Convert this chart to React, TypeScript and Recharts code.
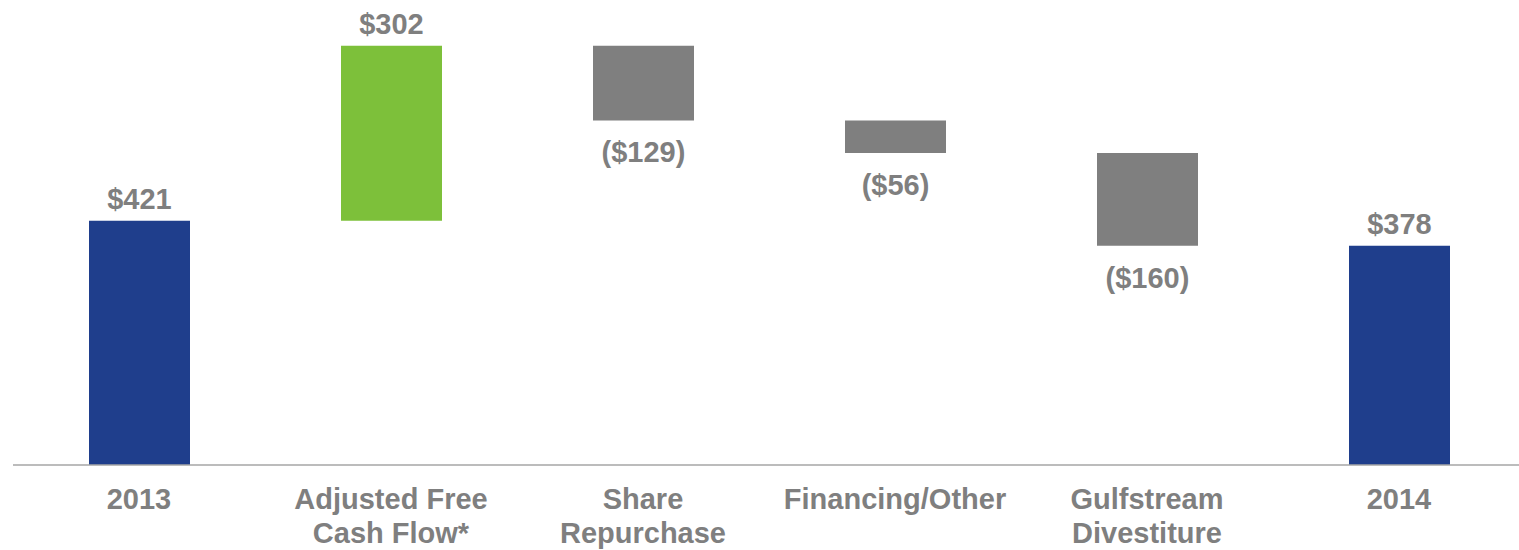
import React from 'react';
import { BarChart, Bar, XAxis, YAxis, Cell, LabelList } from 'recharts';

// cash bridge, 2013 -> 2014 ($M)
const categories = ['2013', 'Adjusted Free Cash Flow*', 'Share Repurchase', 'Financing/Other', 'Gulfstream Divestiture', '2014'];
const tickLines = [['2013'], ['Adjusted Free', 'Cash Flow*'], ['Share', 'Repurchase'], ['Financing/Other'], ['Gulfstream', 'Divestiture'], ['2014']];
const deltas = [421, 302, -129, -56, -160, 378];
const kinds = ['total', 'up', 'down', 'down', 'down', 'total'];

const COLORS: Record<string, string> = { total: '#1f3e8c', up: '#7dc03a', down: '#7f7f7f' };
const TEXT = '#7f7f7f';
const FONT = '"Liberation Sans", Arial, sans-serif';

// invisible base + visible step for each column
let running = 0;
const data = categories.map((name, i) => {
  const d = deltas[i];
  let base = 0;
  if (kinds[i] === 'total') {
    running = d;
  } else if (d >= 0) {
    base = running;
    running += d;
  } else {
    running += d;
    base = running;
  }
  return { name, base, step: Math.abs(d), delta: d, idx: i };
});

const fmt = (v: number) => (v < 0 ? `($${Math.abs(v)})` : `$${v}`);

const StepLabel = (props: any) => {
  const { x, y, width, height, index } = props;
  const d = deltas[index];
  const cx = x + width / 2;
  const ty = d < 0 ? y + height + 42 : y - 12;
  return (
    <text x={cx} y={ty} textAnchor="middle" fill={TEXT} fontSize={29} fontWeight="bold" fontFamily={FONT}>
      {fmt(d)}
    </text>
  );
};

const Tick = (props: any) => {
  const { x, y, index } = props;
  const lines = tickLines[index] || [];
  return (
    <g>
      {lines.map((l, k) => (
        <text key={k} x={x} y={y + 44 + k * 34} textAnchor="middle" fill={TEXT} fontSize={29} fontWeight="bold" fontFamily={FONT}>
          {l}
        </text>
      ))}
    </g>
  );
};

export default function App() {
  return (
    <div style={{ position: 'absolute', left: 0, top: 0, width: 1519, height: 550, overflow: 'hidden', background: '#fff' }}>
      <BarChart width={1530} height={550} data={data} margin={{ top: 1, right: 5, bottom: 0, left: 13 }}>
        <XAxis
          dataKey="name"
          height={85}
          interval={0}
          tickLine={false}
          tickSize={0}
          tickMargin={0}
          axisLine={{ stroke: '#a6a6a6', strokeWidth: 1.5 }}
          tick={<Tick />}
        />
        <YAxis hide domain={[0, 800]} />
        <Bar dataKey="base" stackId="w" fill="transparent" barSize={101} isAnimationActive={false} />
        <Bar dataKey="step" stackId="w" barSize={101} isAnimationActive={false}>
          {data.map((_, i) => (
            <Cell key={i} fill={COLORS[kinds[i]]} />
          ))}
          <LabelList dataKey="delta" content={<StepLabel />} />
        </Bar>
      </BarChart>
    </div>
  );
}
